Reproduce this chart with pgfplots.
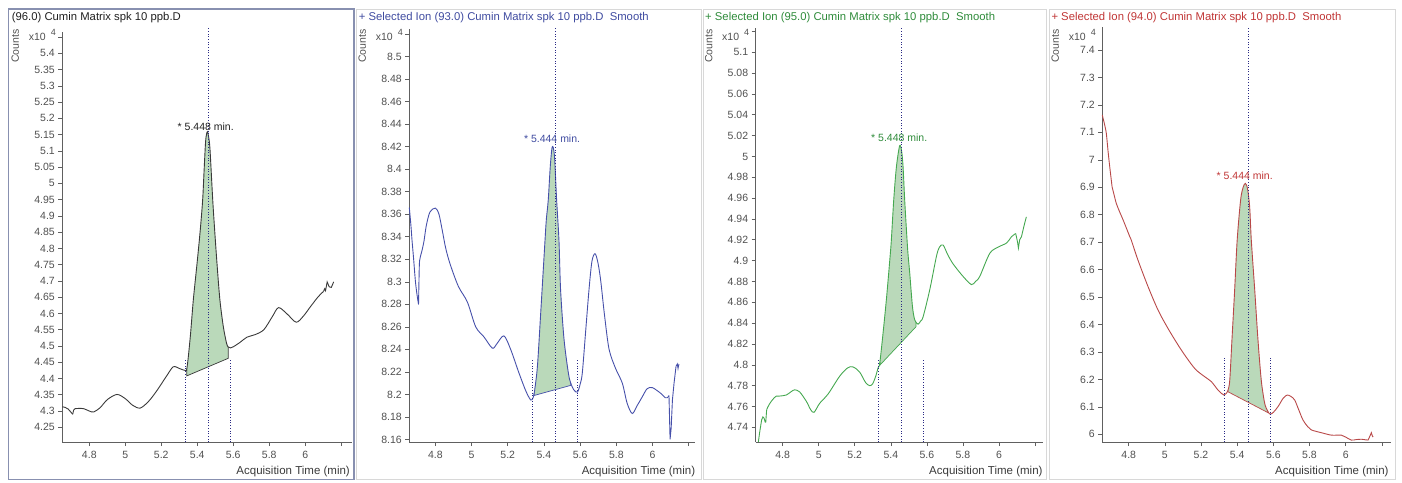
\documentclass[border=0pt]{standalone}
\usepackage{fontspec}
\setmainfont{Liberation Sans}
\usepackage{pgfplots}
\pgfplotsset{compat=1.18}
\usepgfplotslibrary{fillbetween}

\definecolor{ionblk}{HTML}{3A3A3A}
\definecolor{titleblk}{HTML}{202020}
\definecolor{ionblue}{HTML}{4650AA}
\definecolor{titleblue}{HTML}{3F4BA0}
\definecolor{iongreen}{HTML}{45A850}
\definecolor{titlegreen}{HTML}{2E8B3A}
\definecolor{ionred}{HTML}{B84848}
\definecolor{titlered}{HTML}{C03535}
\definecolor{peakfill}{HTML}{BAD9BA}
\definecolor{markline}{HTML}{2A2A85}
\definecolor{tickgray}{HTML}{505050}
\definecolor{axgray}{HTML}{606060}
\definecolor{framesel}{HTML}{8890B0}
\definecolor{framegray}{HTML}{D8D8D8}

\pgfplotsset{
  chrom/.style={
    set layers,
    scale only axis, anchor=south west,
    axis lines*=left,
    clip=false,
    tick align=outside, major tick length=4pt,
    xtick={4.8,5,5.2,5.4,5.6,5.8,6,6.2},
    xticklabels={4.8,5,5.2,5.4,5.6,5.8,6,{}},
    ticklabel style={font=\fontsize{10.5}{12}\selectfont, text=tickgray},
    /pgf/number format/assume math mode=true,
    axis line style={draw=axgray, line width=0.8pt},
    tick style={draw=axgray, line width=0.6pt},
    extra tick style={tick style={draw=axgray, line width=0.6pt}},
    xticklabel shift=2pt,
  },
  ion/.style={line width=0.9pt, smooth, tension=0.5, #1},
  ionsharp/.style={line width=0.9pt, #1},
  rt/.style={markline, dotted, line width=0.7pt},
  pk/.style={fill=peakfill, draw=none},
}

\newcommand{\titlefont}{\fontsize{11.3}{13}\selectfont}
\newcommand{\smallfont}{\fontsize{10.5}{12}\selectfont}

% y-axis caption block to the left of an axis whose left edge is at #1
\newcommand{\countsblock}[1]{%
  \node[rotate=90, text=tickgray, font=\fontsize{10.5}{12}\selectfont] at ({#1-47},436) {Counts};
  \node[anchor=west, text=tickgray, font=\fontsize{10.5}{12}\selectfont] at ({#1-37},445) {x10};
  \node[text=tickgray, font=\fontsize{9}{10}\selectfont] at ({#1-9},449.5) {4};
}

\begin{document}
\begin{tikzpicture}[x=1pt,y=1pt]
\path (0,0) rectangle (1402,482);

% panel frames
\draw[framesel, line width=1.6pt] (8.3,2.7) rectangle (354,472.7);
\draw[framegray, line width=1pt] (356.5,2.7) rectangle (701,472.7);
\draw[framegray, line width=1pt] (703,2.7) rectangle (1046.5,472.7);
\draw[framegray, line width=1pt] (1049,2.7) rectangle (1395.5,472.7);

% panel titles
\node[anchor=west, text=titleblk, font=\titlefont, inner sep=0pt] at (11.7,464) {(96.0) Cumin Matrix spk 10 ppb.D};
\node[anchor=west, text=titleblue, font=\titlefont, inner sep=0pt] at (358.7,464) {+ Selected Ion (93.0) Cumin Matrix spk 10 ppb.D\ \ Smooth};
\node[anchor=west, text=titlegreen, font=\titlefont, inner sep=0pt] at (705,464) {+ Selected Ion (95.0) Cumin Matrix spk 10 ppb.D\ \ Smooth};
\node[anchor=west, text=titlered, font=\titlefont, inner sep=0pt] at (1051.3,464) {+ Selected Ion (94.0) Cumin Matrix spk 10 ppb.D\ \ Smooth};

\countsblock{62.3}
\countsblock{409.3}
\countsblock{755.7}
\countsblock{1102.3}

% x-axis captions
\foreach \xr in {350,695.3,1042.7,1388.7}
  \node[anchor=east, text=ionblk, font=\fontsize{11.5}{13}\selectfont, inner sep=0pt] at (\xr,10) {Acquisition Time (min)};

% ---------------- (96.0) TIC-like trace ----------------
\begin{axis}[chrom, at={(62.3pt,40pt)}, width=289.7pt, height=410pt,
  xmin=4.65, xmax=6.26, ymin=4.2047, ymax=5.4655,
  ytick={4.25,4.3,4.35,4.4,4.45,4.5,4.55,4.6,4.65,4.7,4.75,4.8,4.85,4.9,4.95,5,5.05,5.1,5.15,5.2,5.25,5.3,5.35,5.4},
  extra y ticks={5.45}, extra y tick labels={}]
\addplot[ion=ionblk] coordinates {(4.65,4.313)(4.666,4.311)(4.683,4.306)(4.697,4.297)(4.708,4.290)};
\addplot[ion=ionblk, name path=c1] coordinates {
 (4.708,4.290)(4.713,4.303)(4.720,4.307)(4.745,4.308)(4.770,4.307)(4.800,4.300)(4.824,4.297)
 (4.860,4.310)(4.900,4.335)(4.954,4.351)(5.000,4.338)(5.040,4.318)(5.083,4.309)(5.130,4.330)
 (5.176,4.363)(5.230,4.408)(5.267,4.436)(5.304,4.430)(5.337,4.424)(5.342,4.430)(5.350,4.465)
 (5.363,4.539)(5.378,4.641)(5.397,4.744)(5.415,4.846)(5.430,4.949)(5.439,5.051)(5.447,5.133)
 (5.456,5.159)(5.464,5.140)(5.471,5.103)(5.486,4.949)(5.498,4.846)(5.511,4.744)(5.526,4.641)
 (5.545,4.559)(5.563,4.508)(5.572,4.497)(5.585,4.494)(5.602,4.498)(5.640,4.512)
 (5.676,4.527)(5.722,4.535)(5.770,4.550)(5.817,4.590)(5.852,4.618)(5.900,4.598)(5.950,4.573)
 (5.990,4.592)(6.028,4.620)(6.070,4.650)(6.102,4.668)};
\addplot[ionsharp=ionblk] coordinates {(6.102,4.668)(6.108,4.676)(6.113,4.670)(6.122,4.697)(6.133,4.682)(6.145,4.680)(6.158,4.697)};
\addplot[draw=none, name path=b1] coordinates {(5.342,4.408)(5.572,4.462)};
\addplot[pk] fill between[of=c1 and b1, soft clip={domain=5.342:5.572}];
\addplot[ionsharp=ionblk, line width=0.7pt] coordinates {(5.342,4.430)(5.342,4.408)(5.572,4.462)(5.572,4.497)};
\addplot[rt] coordinates {(5.335,4.2047)(5.335,4.462)};
\addplot[rt] coordinates {(5.461,4.2047)(5.461,5.481)};
\addplot[rt] coordinates {(5.586,4.2047)(5.586,4.462)};
\node[text=titleblk, font=\smallfont, inner sep=0pt] at (axis cs:5.447,5.174) {* 5.448 min.};
\end{axis}

% ---------------- Ion 93.0 ----------------
\begin{axis}[chrom, at={(409.3pt,40pt)}, width=285.7pt, height=413pt,
  xmin=4.656, xmax=6.2348, ymin=8.1577, ymax=8.5246,
  ytick={8.16,8.18,8.2,8.22,8.24,8.26,8.28,8.3,8.32,8.34,8.36,8.38,8.4,8.42,8.44,8.46,8.48,8.5},
  extra y ticks={8.52}, extra y tick labels={}]
\addplot[ion=ionblue] coordinates {(4.656,8.366)(4.665,8.350)(4.671,8.337)(4.680,8.320)(4.690,8.300)(4.700,8.287)(4.707,8.280)};
\addplot[ion=ionblue, name path=c2] coordinates {
 (4.707,8.280)(4.710,8.305)(4.713,8.319)(4.725,8.327)(4.737,8.336)(4.750,8.350)(4.770,8.362)
 (4.800,8.3655)(4.820,8.360)(4.839,8.345)(4.857,8.330)(4.881,8.316)(4.927,8.296)(4.977,8.282)
 (5.023,8.260)(5.069,8.251)(5.115,8.241)(5.140,8.245)(5.179,8.252)(5.216,8.240)(5.262,8.219)
 (5.300,8.203)(5.327,8.195)(5.340,8.197)(5.348,8.203)(5.364,8.225)(5.382,8.272)(5.406,8.337)
 (5.413,8.355)(5.424,8.373)(5.435,8.4025)(5.446,8.420)(5.458,8.412)(5.470,8.373)(5.483,8.337)
 (5.492,8.293)(5.511,8.249)(5.535,8.219)(5.548,8.210)(5.565,8.204)(5.585,8.202)(5.600,8.209)
 (5.612,8.219)(5.630,8.255)(5.649,8.293)(5.665,8.318)(5.682,8.325)(5.697,8.318)(5.713,8.302)
 (5.735,8.270)(5.760,8.240)(5.796,8.223)(5.833,8.210)(5.860,8.192)(5.888,8.183)(5.915,8.190)
 (5.944,8.198)(5.970,8.205)(5.999,8.206)(6.045,8.201)(6.070,8.197)(6.082,8.197)(6.091,8.199)};
\addplot[ionsharp=ionblue] coordinates {(6.091,8.199)(6.097,8.160)(6.103,8.170)(6.110,8.195)(6.119,8.210)(6.130,8.225)(6.137,8.227)(6.141,8.223)(6.146,8.227)};
\addplot[draw=none, name path=b2] coordinates {(5.345,8.199)(5.548,8.208)};
\addplot[pk] fill between[of=c2 and b2, soft clip={domain=5.345:5.548}];
\addplot[ionsharp=ionblue, line width=0.7pt] coordinates {(5.345,8.201)(5.345,8.199)(5.548,8.208)(5.548,8.210)};
\addplot[rt] coordinates {(5.334,8.1577)(5.334,8.232)};
\addplot[rt] coordinates {(5.461,8.1577)(5.461,8.526)};
\addplot[rt] coordinates {(5.587,8.1577)(5.587,8.232)};
\node[text=titleblue, font=\smallfont, inner sep=0pt] at (axis cs:5.445,8.4269) {* 5.444 min.};
\end{axis}

% ---------------- Ion 95.0 ----------------
\begin{axis}[chrom, at={(755.7pt,40pt)}, width=287.3pt, height=414pt,
  xmin=4.6502, xmax=6.2445, ymin=4.7259, ymax=5.1233,
  ytick={4.74,4.76,4.78,4.8,4.82,4.84,4.86,4.88,4.9,4.92,4.94,4.96,4.98,5,5.02,5.04,5.06,5.08,5.1},
  extra y ticks={5.12}, extra y tick labels={}]
\addplot[ionsharp=iongreen] coordinates {(4.665,4.726)(4.672,4.735)(4.683,4.747)(4.690,4.750)(4.696,4.749)(4.703,4.745)(4.706,4.745)(4.711,4.757)};
\addplot[ion=iongreen, name path=c3] coordinates {
 (4.711,4.757)(4.725,4.762)(4.746,4.767)(4.765,4.770)(4.783,4.770)(4.820,4.771)(4.845,4.774)
 (4.866,4.776)(4.894,4.774)(4.931,4.765)(4.955,4.757)(4.974,4.7544)(5.005,4.763)(5.052,4.772)
 (5.116,4.789)(5.160,4.797)(5.190,4.798)(5.227,4.793)(5.260,4.783)(5.283,4.780)(5.300,4.782)
 (5.318,4.790)(5.329,4.797)(5.338,4.801)(5.353,4.824)(5.375,4.862)(5.394,4.900)(5.403,4.920)
 (5.416,4.958)(5.431,4.990)(5.449,5.0103)(5.460,5.005)(5.468,4.990)(5.477,4.958)(5.490,4.920)
 (5.496,4.905)(5.505,4.888)(5.520,4.856)(5.533,4.843)(5.551,4.839)(5.565,4.842)(5.579,4.846)
 (5.616,4.872)(5.653,4.904)(5.670,4.913)(5.690,4.915)(5.715,4.906)(5.745,4.897)(5.800,4.885)
 (5.847,4.877)(5.870,4.880)(5.894,4.885)(5.949,4.907)(5.996,4.913)(6.043,4.917)(6.070,4.923)
 (6.093,4.926)};
\addplot[ionsharp=iongreen] coordinates {(6.093,4.926)(6.103,4.918)(6.108,4.912)(6.115,4.920)(6.125,4.923)(6.140,4.934)(6.152,4.942)};
\addplot[draw=none, name path=b3] coordinates {(5.340,4.7998)(5.540,4.8366)};
\addplot[pk] fill between[of=c3 and b3, soft clip={domain=5.340:5.540}];
\addplot[ionsharp=iongreen, line width=0.7pt] coordinates {(5.340,4.803)(5.340,4.7998)(5.540,4.8366)(5.540,4.841)};
\addplot[rt] coordinates {(5.331,4.7259)(5.331,4.806)};
\addplot[rt] coordinates {(5.456,4.7259)(5.456,5.124)};
\addplot[rt] coordinates {(5.580,4.7259)(5.580,4.806)};
\node[text=titlegreen, font=\smallfont, inner sep=0pt] at (axis cs:5.4465,5.0177) {* 5.448 min.};
\end{axis}

% ---------------- Ion 94.0 ----------------
\begin{axis}[chrom, at={(1102.3pt,40pt)}, width=288.7pt, height=415pt,
  xmin=4.654, xmax=6.2508, ymin=5.972, ymax=7.4838,
  ytick={6,6.1,6.2,6.3,6.4,6.5,6.6,6.7,6.8,6.9,7,7.1,7.2,7.3,7.4}]
\addplot[ion=ionred] coordinates {(4.654,7.163)(4.666,7.130)(4.676,7.097)(4.686,7.030)(4.695,6.975)(4.708,6.902)};
\addplot[ion=ionred, name path=c4] coordinates {
 (4.708,6.902)(4.720,6.870)(4.731,6.842)(4.750,6.810)(4.769,6.781)(4.806,6.720)(4.814,6.708)
 (4.851,6.635)(4.907,6.538)(4.962,6.453)(5.017,6.386)(5.091,6.307)(5.165,6.240)(5.220,6.210)
 (5.257,6.192)(5.294,6.161)(5.315,6.148)(5.327,6.143)(5.338,6.148)(5.349,6.160)(5.359,6.198)
 (5.371,6.344)(5.386,6.526)(5.400,6.708)(5.419,6.854)(5.433,6.900)(5.445,6.914)(5.457,6.895)
 (5.469,6.829)(5.478,6.708)(5.497,6.526)(5.515,6.344)(5.533,6.198)(5.550,6.120)(5.561,6.095)
 (5.580,6.074)(5.600,6.080)(5.626,6.101)(5.655,6.132)(5.677,6.143)(5.697,6.138)(5.718,6.125)
 (5.740,6.090)(5.764,6.052)(5.790,6.028)(5.810,6.016)(5.865,6.006)(5.921,5.997)(5.976,5.997)
 (6.000,5.990)(6.031,5.979)(6.060,5.981)(6.087,5.982)(6.110,5.980)(6.124,5.979)};
\addplot[ionsharp=ionred] coordinates {(6.124,5.979)(6.135,5.995)(6.142,6.006)(6.147,5.995)(6.152,5.990)};
\addplot[draw=none, name path=b4] coordinates {(5.349,6.155)(5.570,6.079)};
\addplot[pk] fill between[of=c4 and b4, soft clip={domain=5.349:5.570}];
\addplot[ionsharp=ionred, line width=0.7pt] coordinates {(5.349,6.160)(5.349,6.155)(5.570,6.079)(5.570,6.084)};
\addplot[rt] coordinates {(5.331,5.972)(5.331,6.277)};
\addplot[rt] coordinates {(5.460,5.972)(5.460,7.484)};
\addplot[rt] coordinates {(5.583,5.972)(5.583,6.277)};
\node[text=titlered, font=\smallfont, inner sep=0pt] at (axis cs:5.4416,6.942) {* 5.444 min.};
\end{axis}
\end{tikzpicture}
\end{document}
